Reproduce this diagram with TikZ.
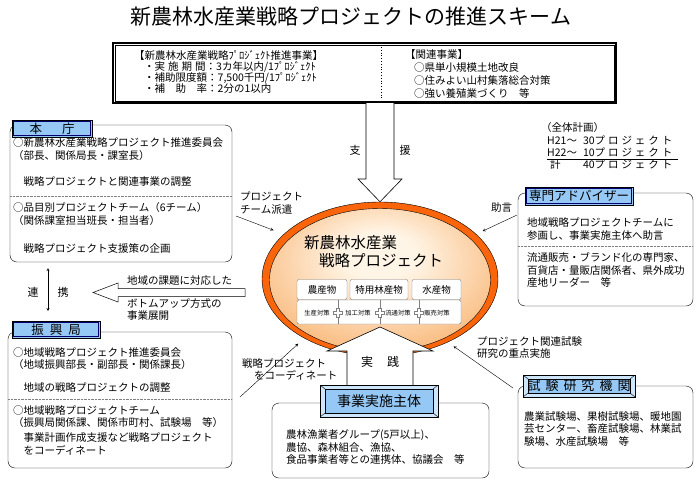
\documentclass[tikz,border=0pt]{standalone}
\usepackage{fontspec}
\setmainfont{Noto Sans CJK JP}
\usepackage{tikz}
\usetikzlibrary{arrows}
\usetikzlibrary{shapes.geometric, positioning, calc}
\usepackage{xcolor}

\definecolor{tagblue}{RGB}{150,200,245}
\definecolor{tagpale}{RGB}{205,230,252}
\definecolor{ringorange}{RGB}{250,100,10}
\definecolor{corelight}{RGB}{255,245,230}
\definecolor{coreorange}{RGB}{246,148,58}

\pgfdeclareradialshading{coreglow}{\pgfpoint{0bp}{10bp}}{color(0bp)=(corelight); color(8bp)=(corelight); color(46bp)=(coreorange); color(60bp)=(coreorange)}

\tikzset{
  body/.style={anchor=west, inner sep=0pt, align=left, font=\fontsize{10.5}{12.5}\selectfont},
  panel/.style={draw, rounded corners=7pt, fill=white, inner sep=0pt},
  deptlabel/.style={draw, line width=0.9pt, fill=tagblue, inner sep=0pt, font=\fontsize{12.5}{13}\selectfont,
    path picture={\draw[blue!45!black, line width=0.6pt] ([shift={(1.5pt,-1.5pt)}]path picture bounding box.north west) rectangle ([shift={(-1.5pt,1.5pt)}]path picture bounding box.south east);}},
  bevel/.style={draw, fill=tagpale, inner sep=0pt,
    path picture={
      \draw[fill=tagblue] ([shift={(5pt,-4pt)}]path picture bounding box.north west) rectangle ([shift={(-5pt,4pt)}]path picture bounding box.south east);
      \draw (path picture bounding box.north west) -- ++(5pt,-4pt)
            (path picture bounding box.north east) -- ++(-5pt,-4pt)
            (path picture bounding box.south west) -- ++(5pt,4pt)
            (path picture bounding box.south east) -- ++(-5pt,4pt);}},
  hollowarrow/.style={draw, fill=white, line width=0.6pt},
  product/.style={draw=gray, fill=white, rounded corners=2pt, inner sep=0pt, minimum height=20pt, font=\fontsize{9.5}{10}\selectfont},
}

\begin{document}
\begin{tikzpicture}[x=1pt, y=-1pt, >=stealth]
  \useasboundingbox (0,0) rectangle (700,485);

  \node[font=\fontsize{21}{21}\selectfont] (title) at (351,17) {新農林水産業戦略プロジェクトの推進スキーム};

  % funding scheme
  \node[draw, line width=1.5pt, minimum width=503pt, minimum height=60pt, inner sep=0pt] (plan) at (364.5,73) {};
  \draw[line width=0.5pt] ([shift={(2.5pt,-2.5pt)}]plan.north west) rectangle ([shift={(-2.5pt,2.5pt)}]plan.south east);
  \draw[dotted, thick] (381,47) -- (381,99);
  \node[body, font=\fontsize{10.5}{11.3}\selectfont] (planL) at (134,72) {【新農林水産業戦略ﾌﾟﾛｼﾞｪｸﾄ推進事業】\\
    \hspace*{10pt}・実\hspace{3pt}施\hspace{3pt}期\hspace{3pt}間：3カ年以内/1ﾌﾟﾛｼﾞｪｸﾄ\\
    \hspace*{10pt}・補助限度額：7,500千円/1ﾌﾟﾛｼﾞｪｸﾄ\\
    \hspace*{10pt}・補　助　率：2分の1以内};
  \node[body, font=\fontsize{10.5}{12.7}\selectfont] (planR) at (405,74) {【関連事業】\\
    \hspace*{9pt}○県単小規模土地改良\\
    \hspace*{9pt}○住みよい山村集落総合対策\\
    \hspace*{9pt}○強い養殖業づくり　等};

  % strategy project
  \node[ellipse, draw, fill=ringorange, minimum width=236pt, minimum height=154pt, inner sep=0pt] (core) at (380,279) {};
  \node[ellipse, draw, shade, shading=coreglow, minimum width=221pt, minimum height=143pt, inner sep=0pt] (coreIn) at (380,280) {};
  \node[body, font=\fontsize{15.5}{16}\selectfont] (coreT1) at (304,243) {新農林水産業};
  \node[body, font=\fontsize{15.5}{16}\selectfont] (coreT2) at (319,261) {戦略プロジェクト};

  \draw[hollowarrow] (366,103) -- (366,179) -- (358,179) -- (core.north) -- (402,179) -- (394,179) -- (394,103);
  \node[font=\fontsize{11}{11}\selectfont] (sup1) at (355,150) {支};
  \node[font=\fontsize{11}{11}\selectfont] (sup2) at (405,150) {援};

  \draw[hollowarrow] (347,385) -- (347,351) -- (327,351) -- (380,327) -- (433,351) -- (413,351) -- (413,385);
  \node[font=\fontsize{12}{12}\selectfont] (prac1) at (367,362) {実};
  \node[font=\fontsize{12}{12}\selectfont] (prac2) at (393,362) {践};

  \node[product, minimum width=50pt] (crop) at (322,289.5) {農産物};
  \node[product, minimum width=58pt] (forest) at (379,289.5) {特用林産物};
  \node[product, minimum width=49pt] (fish) at (436.5,289.5) {水産物};
  \node[product, minimum width=164pt, minimum height=24pt] (measures) at (379,312) {};
  \foreach \x in {338,380,419} {
    \draw[gray] (\x,300) -- (\x,324);
    \draw[gray, fill=white] (\x-1.5,308.5) -- (\x+1.5,308.5) -- (\x+1.5,311.5) -- (\x+4.5,311.5) -- (\x+4.5,314.5) -- (\x+1.5,314.5)
      -- (\x+1.5,317.5) -- (\x-1.5,317.5) -- (\x-1.5,314.5) -- (\x-4.5,314.5) -- (\x-4.5,311.5) -- (\x-1.5,311.5) -- cycle;
  }
  \foreach \x/\t in {317/生産対策, 358/加工対策, 398/流通対策, 437/販売対策}
    \node[font=\fontsize{6.3}{7}\selectfont] (m\x) at (\x,313) {\t};

  % implementing body
  \node[panel, minimum width=217pt, minimum height=75pt] (actor) at (380.5,440.5) {};
  \node[bevel, minimum width=118pt, minimum height=32pt, font=\fontsize{14}{14}\selectfont] (actorTag) at (379,401) {事業実施主体};
  \node[body] (actorT) at (286,447.5) {農林漁業者グループ(5戸以上)、\\農協、森林組合、漁協、\\食品事業者等との連携体、協議会　等};

  % headquarters
  \node[panel, minimum width=222pt, minimum height=137pt] (honcho) at (121,193.5) {};
  \node[deptlabel, minimum width=80pt, minimum height=17pt] (honchoTag) at (52,128.5) {本\hspace{20pt}庁};
  \node[body] (hq1) at (13,149) {○新農林水産業戦略プロジェクト推進委員会\\（部長、関係局長・課室長）};
  \node[body] (hq2) at (13,182) {\hspace*{1em}戦略プロジェクトと関連事業の調整};
  \draw[densely dotted, gray] (10,196) -- (232,196);
  \node[body] (hq3) at (13,214) {○品目別プロジェクトチーム（6チーム）\\（関係課室担当班長・担当者）};
  \node[body] (hq4) at (13,248) {\hspace*{1em}戦略プロジェクト支援策の企画};

  % regional bureau
  \node[panel, minimum width=224pt, minimum height=136pt] (kyoku) at (120,400) {};
  \node[deptlabel, minimum width=88pt, minimum height=17pt] (kyokuTag) at (56,329.5) {振\hspace{6pt}興\hspace{6pt}局};
  \node[body] (rb1) at (13,358.5) {○地域戦略プロジェクト推進委員会\\（地域振興部長・副部長・関係課長）};
  \node[body] (rb2) at (13,388) {\hspace*{1em}地域の戦略プロジェクトの調整};
  \draw[densely dotted, gray] (8,399) -- (232,399);
  \node[body] (rb3) at (13,416.5) {○地域戦略プロジェクトチーム\\（振興局関係課、関係市町村、試験場　等）};
  \node[body] (rb4) at (13,444) {\hspace*{1em}事業計画作成支援など戦略プロジェクト\\\hspace*{1em}をコーディネート};

  % cooperation
  \coordinate (linkTop) at (48,268);
  \coordinate (linkBot) at (48,311);
  \draw[<->] (linkTop) -- (linkBot);
  \node[font=\fontsize{11}{11}\selectfont] (link1) at (33,292) {連};
  \node[font=\fontsize{11}{11}\selectfont] (link2) at (63,292) {携};

  \draw[hollowarrow, line width=0.5pt] (245,288.5) -- (118,288.5) -- (118,283) -- (93,292.5) -- (118,302) -- (118,296.5) -- (245,296.5) -- cycle;
  \node[body] (bu1) at (127,281) {地域の課題に対応した};
  \node[body] (bu2) at (127,309.5) {ボトムアップ方式の\\事業展開};

  % overall plan
  \node[body] (totalT) at (541,128) {（全体計画）};
  \node[body, font=\fontsize{10.5}{12}\selectfont] (total) at (547,154) {\begin{tabular}{@{}l@{\hspace{6pt}}l@{}}
    H21～ & 30\addfontfeature{LetterSpace=28}プロジェクト\\
    H22～ & 10\addfontfeature{LetterSpace=28}プロジェクト\\
    \hspace*{3pt}計 & 40\addfontfeature{LetterSpace=28}プロジェクト\end{tabular}};
  \draw (547,159.5) -- (678,159.5);

  % advisers
  \node[panel, minimum width=175pt, minimum height=113pt] (advisor) at (605.5,249.5) {};
  \node[deptlabel, minimum width=108pt, minimum height=18pt] (advisorTag) at (579,196) {専門アドバイザー};
  \node[body] (adv1) at (527,229) {地域戦略プロジェクトチームに\\参画し、事業実施主体へ助言};
  \draw[densely dotted, gray] (518,246) -- (693,246);
  \node[body] (adv2) at (527,270) {流通販売・ブランド化の専門家、\\百貨店・量販店関係者、県外成功\\産地リーダー　等};

  % research institutes
  \node[panel, minimum width=175pt, minimum height=82pt] (lab) at (605.5,427) {};
  \node[bevel, minimum width=112pt, minimum height=22pt, font=\fontsize{13}{13}\selectfont] (labTag) at (579,386) {試\hspace{5pt}験\hspace{5pt}研\hspace{5pt}究\hspace{5pt}機\hspace{5pt}関};
  \node[body] (labT) at (524,429) {農業試験場、果樹試験場、暖地園\\芸センター、畜産試験場、林業試\\験場、水産試験場　等};

  % thin arrows into the project
  \coordinate (dispatch) at (236,216);
  \coordinate (advise) at (517,215);
  \coordinate (coordinate) at (240,397);
  \coordinate (research) at (513,388);
  \draw[->, shorten >=11pt] (dispatch) -- (core.155);
  \draw[->, shorten >=7pt] (advise) -- (core.25);
  \draw[->, shorten >=8pt] (coordinate) -- (core.218);
  \draw[->, shorten >=7pt] (research) -- (core.317);
  \node[body] (dispatchT) at (240,203) {プロジェクト\\チーム派遣};
  \node[body] (adviseT) at (491,208) {助言};
  \node[body] (coordT) at (242,369.5) {戦略プロジェクト\\\hspace*{12pt}をコーディネート};
  \node[body] (researchT) at (477,347.5) {プロジェクト関連試験\\研究の重点実施};
\end{tikzpicture}
\end{document}
